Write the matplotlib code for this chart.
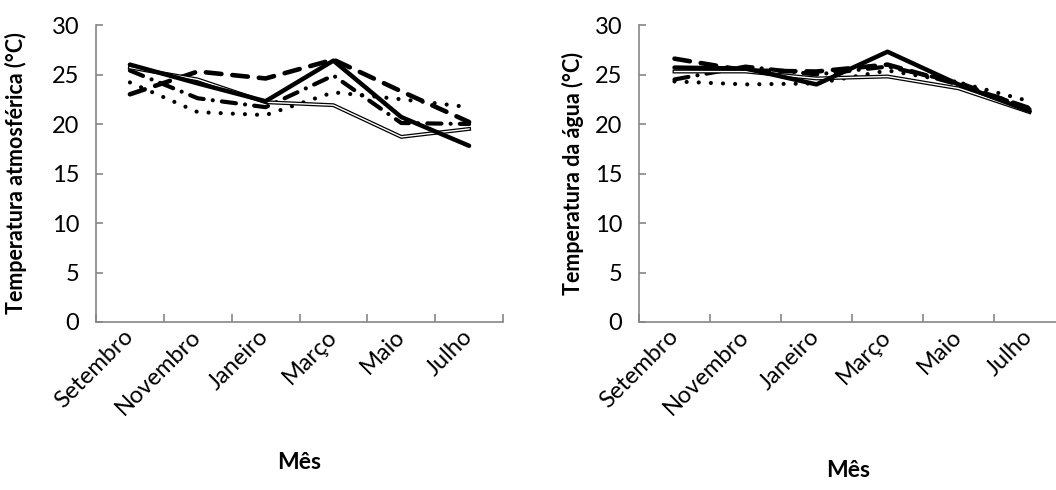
import matplotlib
matplotlib.use('Agg')
import matplotlib.pyplot as plt
import matplotlib.transforms as mtransforms
import numpy as np

plt.rcParams['font.family'] = ['Lato', 'DejaVu Sans']

# Data
meses = ['Setembro', 'Novembro', 'Janeiro', 'Março', 'Maio', 'Julho']

# Temperatura atmosférica (°C)
atm_a = [26.0, 24.1, 22.3, 26.4, 20.7, 17.8]   # thick solid
atm_b = [25.7, 24.5, 22.2, 21.9, 18.7, 19.5]   # double line
atm_c = [23.0, 25.3, 24.6, 26.5, 23.3, 20.2]   # thick dashed
atm_d = [25.4, 22.6, 21.7, 24.9, 20.1, 20.0]   # dash-dot
atm_e = [24.2, 21.2, 20.9, 23.2, 22.5, 21.7]   # dotted

# Temperatura da água (°C)
agua_a = [25.7, 25.6, 24.0, 27.3, 24.0, 21.3]
agua_b = [25.3, 25.3, 24.6, 24.8, 23.6, 21.2]
agua_c = [26.6, 25.4, 25.3, 26.0, 24.0, 21.6]
agua_d = [24.5, 25.8, 25.0, 25.8, 24.2, 21.5]
agua_e = [24.3, 24.0, 24.1, 25.4, 24.2, 22.3]

GREY = '#868686'


def draw_series(ax, a, b, c, d, e):
    x = np.arange(len(meses))
    ax.plot(x, e, color='black', lw=3, linestyle=(0, (0.01, 2.9)),
            dash_capstyle='round', solid_capstyle='round')
    ax.plot(x, d, color='black', lw=3, linestyle=(0, (3.4, 2.2, 0.01, 2.2)),
            dash_capstyle='round')
    ax.plot(x, c, color='black', lw=3.3, linestyle=(0, (3.4, 2.4)),
            dash_capstyle='round')
    ax.plot(x, b, color='black', lw=2.8, solid_joinstyle='miter')
    ax.plot(x, b, color='white', lw=1.0, solid_joinstyle='miter')
    ax.plot(x, a, color='black', lw=3.2, solid_capstyle='round')


def style_axes(ax, ylabel, ylab_x, xlab_y, xlab_x):
    n = len(meses)
    ax.set_xlim(-0.5, n - 0.5)
    ax.set_ylim(0, 30)
    ax.set_yticks(range(0, 31, 5))
    ax.set_xticks(np.arange(n))
    ax.set_xticklabels(meses, rotation=45, ha='right', va='center',
                       rotation_mode='anchor', fontsize=17)
    offset = mtransforms.ScaledTranslation(22 / 100, 0, ax.figure.dpi_scale_trans)
    for lab in ax.get_xticklabels():
        lab.set_transform(lab.get_transform() + offset)
    ax.set_xticks(np.arange(n + 1) - 0.5, minor=True)
    ax.tick_params(axis='x', which='major', length=0, pad=8)
    ax.tick_params(axis='x', which='minor', length=6, direction='in',
                   color=GREY, width=1.2)
    ax.tick_params(axis='y', length=5, direction='in', color=GREY, width=1.2,
                   labelsize=17, pad=12)
    for s in ['top', 'right']:
        ax.spines[s].set_visible(False)
    for s in ['left', 'bottom']:
        ax.spines[s].set_color(GREY)
        ax.spines[s].set_linewidth(1.2)
    ax.set_ylabel(ylabel, fontsize=15.5, fontweight='bold')
    ax.yaxis.set_label_coords(ylab_x, 0.5)
    ax.set_xlabel('Mês', fontsize=16.5, fontweight='bold')
    ax.xaxis.set_label_coords(xlab_x, xlab_y)


fig = plt.figure(figsize=(10.56, 4.9), dpi=100)
ax1 = fig.add_axes([96 / 1056, 168 / 490, 407 / 1056, 297 / 490])
ax2 = fig.add_axes([639 / 1056, 168 / 490, 426 / 1056, 297 / 490])

draw_series(ax1, atm_a, atm_b, atm_c, atm_d, atm_e)
draw_series(ax2, agua_a, agua_b, agua_c, agua_d, agua_e)

style_axes(ax1, 'Temperatura atmosférica (°C)', -0.17, -0.438, 0.50)
style_axes(ax2, 'Temperatura da água (°C)', -0.129, -0.465, 0.49)

fig.savefig('out.png', dpi=100)
